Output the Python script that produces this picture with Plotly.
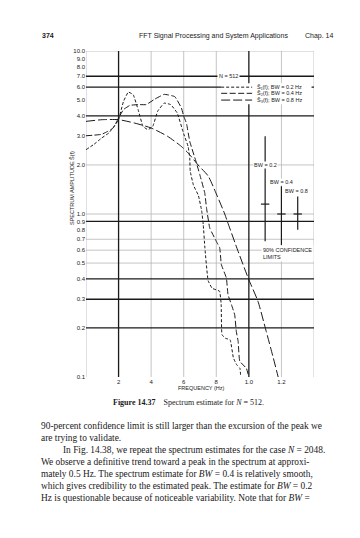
import math
import plotly.graph_objects as go

# ---------------- data ----------------
freq_bw02 = [0, 0.05, 0.095, 0.14, 0.18, 0.2, 0.23, 0.26, 0.29, 0.32, 0.35, 0.38, 0.41, 0.44, 0.48,
             0.52, 0.56, 0.6, 0.627, 0.637, 0.64, 0.66, 0.69, 0.71, 0.72, 0.73, 0.75, 0.775, 0.82,
             0.83, 0.835, 0.855, 0.885, 0.905, 0.925, 0.945, 0.95]
amp_bw02 = [2.48, 2.68, 2.92, 3.14, 3.53, 3.79, 4.9, 5.6, 5.39, 4.37, 3.45, 3.29, 3.45, 4.27, 4.79,
            4.69, 4.17, 3.1, 2.6, 2.2, 1.83, 1.5, 1.3, 1.05, 0.86, 0.62, 0.39, 0.35, 0.336,
            0.28, 0.182, 0.173, 0.169, 0.131, 0.119, 0.113, 0.1]

freq_bw04 = [0, 0.04, 0.095, 0.13, 0.167, 0.2, 0.23, 0.27, 0.32, 0.37, 0.42, 0.48, 0.545, 0.586,
             0.6, 0.617, 0.637, 0.678, 0.699, 0.729, 0.74, 0.76, 0.80, 0.821, 0.831, 0.862, 0.872,
             0.893, 0.913, 0.923, 0.934, 0.944, 0.985, 1.0]
amp_bw04 = [3.02, 3.04, 3.08, 3.2, 3.37, 3.88, 4.37, 4.64, 4.69, 4.69, 5.05, 5.42, 5.25, 4.47,
            3.98, 3.6, 2.79, 2.06, 1.74, 1.35, 1.09, 0.82, 0.68, 0.62, 0.49, 0.405, 0.32,
            0.278, 0.241, 0.19, 0.166, 0.125, 0.113, 0.1]

freq_bw08 = [0, 0.1, 0.2, 0.3, 0.4, 0.5, 0.585, 0.627, 0.688, 0.75, 0.8, 0.852, 0.868, 0.934,
             1.0, 1.056, 1.107, 1.15, 1.18]
amp_bw08 = [3.7, 3.79, 3.79, 3.61, 3.37, 3.0, 2.6, 2.37, 2.0, 1.71, 1.33, 1.0, 0.9, 0.59,
            0.395, 0.291, 0.19, 0.131, 0.1]

y_tickvals = [10, 9, 8, 7, 6, 5, 4, 3, 2, 1, 0.9, 0.8, 0.7, 0.6, 0.5, 0.4, 0.3, 0.2, 0.1]
y_ticktext = ["10.0", "9.0", "8.0", "7.0", "6.0", "5.0", "4.0", "3.0", "2.0", "1.0",
              "0.9", "0.8", "0.7", "0.6", "0.5", "0.4", "0.3", "0.2", "0.1"]
x_tickvals = [0.2, 0.4, 0.6, 0.8, 1.0, 1.2]
x_ticktext = ["2", "4", "6", "8", "1.0", "1.2"]

ci_freq = [1.1, 1.2, 1.3]
ci_low = [0.68, 0.645, 0.80]
ci_high = [3.0, 1.48, 1.28]
ci_mid = [1.15, 1.0, 1.0]
ci_labels = ["BW = 0.2", "BW = 0.4", "BW = 0.8"]
ci_label_y = [2.0, 1.57, 1.38]
ci_label_x = [1.1, 1.2, 1.29]

legend_names = ["Ŝ₁(f); BW = 0.2 Hz", "Ŝ₂(f); BW = 0.4 Hz", "Ŝ₃(f); BW = 0.8 Hz"]
legend_rows = [6.0, 5.5, 5.0]

# graph-paper rulings (style)
heavy_h = [7, 6, 4, 0.9, 0.4, 0.3, 0.2]
light_h = [10, 2, 1, 0.7, 0.6, 0.5]
heavy_v = [0.2, 1.0]
light_v = [0, 0.4, 0.6, 0.8, 1.2, 1.4]

W, H = 360, 538
L, R, T, B = 78, 54, 43, 169
PW, PH = W - L - R, H - T - B


def P(px, py):
    return (px - L) / PW, (H - B - py) / PH


SANS = "Liberation Sans, Arial, sans-serif"
SERIF = "Liberation Serif, Times New Roman, serif"
INK = "#1a1a1a"

dashes = ["3px,2px", "6px,2.5px", "9px,3px"]
smooth = [0.3, 0.3, 0.6]
series = [(freq_bw02, amp_bw02), (freq_bw04, amp_bw04), (freq_bw08, amp_bw08)]

fig = go.Figure()

shapes = []
for yv in light_h:
    shapes.append(dict(type="line", xref="paper", yref="y", x0=0, x1=1, y0=yv, y1=yv,
                       line=dict(color="#b5b5b5", width=0.8), layer="below"))
for xv in light_v:
    shapes.append(dict(type="line", xref="x", yref="paper", x0=xv, x1=xv, y0=0, y1=1,
                       line=dict(color="#b5b5b5", width=0.8), layer="below"))
for yv in heavy_h:
    shapes.append(dict(type="line", xref="paper", yref="y", x0=0, x1=1, y0=yv, y1=yv,
                       line=dict(color=INK, width=1.3), layer="below"))
for xv in heavy_v:
    shapes.append(dict(type="line", xref="x", yref="paper", x0=xv, x1=xv, y0=0, y1=1,
                       line=dict(color=INK, width=1.3), layer="below"))
# white patch behind legend
shapes.append(dict(type="rect", xref="x", yref="y", x0=0.83, x1=1.385, y0=4.72, y1=6.35,
                   fillcolor="white", line=dict(width=0), layer="below"))

for (fx, fy), d, s in zip(series, dashes, smooth):
    fig.add_trace(go.Scatter(x=fx, y=fy, mode="lines", showlegend=False,
                             line=dict(color=INK, width=1.0, dash=d, shape="spline", smoothing=s)))

# confidence bars
for xv, lo, hi, mid in zip(ci_freq, ci_low, ci_high, ci_mid):
    fig.add_trace(go.Scatter(x=[xv, xv], y=[lo, hi], mode="lines", showlegend=False,
                             line=dict(color=INK, width=1.2)))
    fig.add_trace(go.Scatter(x=[xv], y=[mid], mode="markers", showlegend=False,
                             marker=dict(symbol="line-ew", size=6, line=dict(color=INK, width=1.2))))

# legend samples
for row, d in zip(legend_rows, dashes):
    fig.add_trace(go.Scatter(x=[0.83, 1.02], y=[row, row], mode="lines", showlegend=False,
                             line=dict(color=INK, width=1.0, dash=d)))

ann = []
for name, row in zip(legend_names, legend_rows):
    ann.append(dict(x=1.04, y=math.log10(row), xref="x", yref="y", text=name, showarrow=False,
                    xanchor="left", yanchor="middle", font=dict(family=SANS, size=5.5, color=INK)))
ann.append(dict(x=0.875, y=math.log10(7), xref="x", yref="y", text="N = 512", showarrow=False,
                bgcolor="white", borderpad=1, font=dict(family=SANS, size=5.5, color=INK)))
for lab, lx, ly in zip(ci_labels, ci_label_x, ci_label_y):
    ann.append(dict(x=lx, y=math.log10(ly), xref="x", yref="y", text=lab, showarrow=False,
                    bgcolor="white", borderpad=0, font=dict(family=SANS, size=5.5, color=INK)))
ann.append(dict(x=1.072, y=math.log10(0.57), xref="x", yref="y",
                text="90% CONFIDENCE<br>LIMITS", showarrow=False, align="left",
                xanchor="left", bgcolor="white", font=dict(family=SANS, size=5.5, color=INK)))

# axis titles
px_, py_ = P(59, 180)
ann.append(dict(x=px_, y=py_, xref="paper", yref="paper", text="SPECTRUM AMPLITUDE Ŝ(f)",
                textangle=-90, showarrow=False, font=dict(family=SANS, size=5.5, color=INK)))
px_, py_ = P(193, 385)
ann.append(dict(x=px_, y=py_, xref="paper", yref="paper", text="FREQUENCY (Hz)",
                showarrow=False, font=dict(family=SANS, size=5.5, color=INK)))

# page header
px_, py_ = P(32, 22)
ann.append(dict(x=px_, y=py_, xref="paper", yref="paper", text="<b>374</b>", xanchor="left",
                showarrow=False, font=dict(family=SANS, size=7, color=INK)))
px_, py_ = P(205, 22)
ann.append(dict(x=px_, y=py_, xref="paper", yref="paper",
                text="FFT Signal Processing and System Applications",
                showarrow=False, font=dict(family=SANS, size=7, color=INK)))
px_, py_ = P(328, 22)
ann.append(dict(x=px_, y=py_, xref="paper", yref="paper", text="Chap. 14", xanchor="right",
                showarrow=False, font=dict(family=SANS, size=7, color=INK)))

# caption
px_, py_ = P(180, 401)
ann.append(dict(x=px_, y=py_, xref="paper", yref="paper",
                text="<b>Figure 14.37</b>    Spectrum estimate for <i>N</i> = 512.",
                showarrow=False, font=dict(family=SERIF, size=8, color=INK)))

body = [
    (31, "90-percent confidence limit is still larger than the excursion of the peak we"),
    (31, "are trying to validate."),
    (53, "In Fig. 14.38, we repeat the spectrum estimates for the case <i>N</i> = 2048."),
    (31, "We observe a definitive trend toward a peak in the spectrum at approxi-"),
    (31, "mately 0.5 Hz. The spectrum estimate for <i>BW</i> = 0.4 is relatively smooth,"),
    (31, "which gives credibility to the estimated peak. The estimate for <i>BW</i> = 0.2"),
    (31, "Hz is questionable because of noticeable variability. Note that for <i>BW</i> ="),
]
for i, (bx, line) in enumerate(body):
    px_, py_ = P(bx, 424.5 + i * 12)
    ann.append(dict(x=px_, y=py_, xref="paper", yref="paper", text=line, xanchor="left",
                    showarrow=False, font=dict(family=SERIF, size=9.4, color=INK)))

fig.update_layout(
    width=W, height=H, margin=dict(l=L, r=R, t=T, b=B),
    paper_bgcolor="white", plot_bgcolor="white",
    shapes=shapes, annotations=ann, showlegend=False,
    xaxis=dict(range=[0, 1.4], showgrid=False, zeroline=False, showline=False,
               tickvals=x_tickvals, ticktext=x_ticktext, ticks="",
               tickfont=dict(family=SANS, size=6, color=INK)),
    yaxis=dict(type="log", range=[-1, 1], showgrid=False, zeroline=False, showline=False,
               tickvals=y_tickvals, ticktext=y_ticktext, ticks="",
               tickfont=dict(family=SANS, size=6, color=INK)),
)

fig.write_html("out.html")
